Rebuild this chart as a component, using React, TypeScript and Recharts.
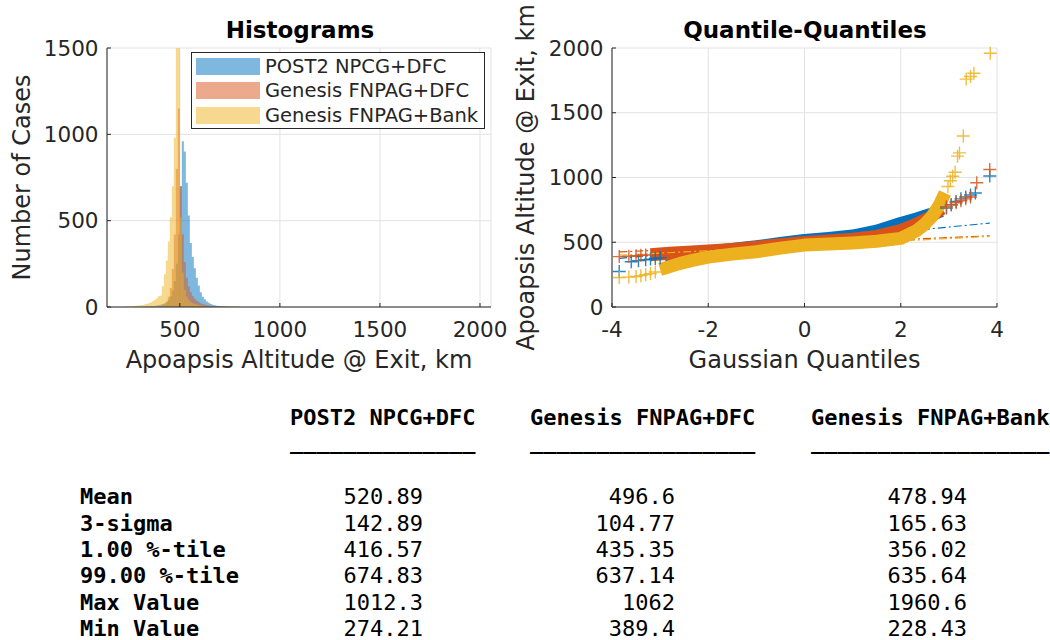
import {
  ComposedChart,
  Area,
  Line,
  Scatter,
  XAxis,
  YAxis,
  CartesianGrid,
  Legend,
  Label,
} from 'recharts';

const FONT = '"DejaVu Sans", Verdana, sans-serif';
const MONO = '"DejaVu Sans Mono", monospace';
const INK = '#262626';
const GRID = '#e2e2e2';
const COLORS = ['#0072BD', '#D95319', '#EDB120'];
const FILLS = ['rgba(0,114,189,0.5)', 'rgba(217,83,25,0.5)', 'rgba(237,177,32,0.5)'];

const seriesNames = ['POST2 NPCG+DFC', 'Genesis FNPAG+DFC', 'Genesis FNPAG+Bank'];

// histogram: left bin edge (km) and number of cases per 10 km bin
const binEdges = [
  220, 230, 240, 250, 260, 270, 280, 290, 300, 310,
  320, 330, 340, 350, 360, 370, 380, 390, 400, 410,
  420, 430, 440, 450, 460, 470, 480, 490, 500, 510,
  520, 530, 540, 550, 560, 570, 580, 590, 600, 610,
  620, 630, 640, 650, 660, 670, 680, 690, 700, 710,
  720, 730, 740, 750, 760, 770, 780, 790, 800,
];
const post2Counts = [
  0, 0, 0, 0, 0, 1, 1, 1, 1, 2,
  2, 3, 3, 4, 5, 6, 8, 10, 13, 17,
  22, 30, 42, 62, 95, 150, 250, 420, 700, 960,
  900, 720, 530, 370, 290, 225, 170, 125, 85, 60,
  45, 32, 24, 18, 13, 10, 7, 6, 5, 4,
  3, 3, 2, 2, 1, 1, 1, 1, 0,
];
const dfcCounts = [
  0, 0, 0, 0, 0, 0, 0, 0, 0, 0,
  0, 0, 0, 0, 0, 0, 0, 2, 4, 8,
  15, 30, 60, 110, 220, 420, 800, 1150, 700, 420,
  260, 170, 120, 85, 62, 48, 37, 29, 22, 17,
  13, 10, 8, 6, 5, 4, 3, 3, 2, 2,
  1, 1, 1, 1, 1, 0, 0, 0, 0,
];
const bankCounts = [
  2, 3, 3, 4, 5, 6, 7, 8, 10, 12,
  14, 17, 21, 26, 32, 40, 50, 62, 65, 120,
  190, 270, 380, 520, 700, 980, 1580, 1560, 520, 200,
  100, 60, 42, 30, 23, 18, 14, 11, 9, 7,
  6, 5, 4, 3, 3, 2, 2, 2, 1, 1,
  1, 1, 1, 1, 1, 1, 1, 1, 0,
];
const histTicksX = [500, 1000, 1500, 2000];
const histTicksY = [0, 500, 1000, 1500];

// quantile-quantile: [gaussian quantile, apoapsis km]
const post2Body = [
  [-2.9, 386], [-2.5, 405], [-2.0, 425], [-1.5, 445], [-1.0, 465], [-0.5, 490], [0, 514],
  [0.5, 530], [1.0, 548], [1.5, 585], [2.0, 645], [2.33, 680], [2.6, 712], [2.85, 745],
];
const post2Tail = [
  [-3.85, 274], [-3.6, 350], [-3.45, 358], [-3.3, 365], [-3.2, 370], [-3.1, 375], [-3.0, 380],
  [2.95, 765], [3.05, 790], [3.15, 815], [3.25, 835], [3.35, 850], [3.45, 865],
  [3.55, 880], [3.85, 1012],
];
const post2Fit = [[-3.85, 375], [3.85, 648]];

const dfcBody = [
  [-3.2, 404], [-2.8, 415], [-2.33, 425], [-2.0, 432], [-1.5, 445], [-1.0, 462], [-0.5, 480],
  [0, 498], [0.5, 510], [1.0, 523], [1.5, 545], [2.0, 590], [2.33, 640], [2.6, 690], [2.85, 760],
];
const dfcTail = [
  [-3.85, 389], [-3.65, 392], [-3.5, 396], [-3.4, 399], [-3.3, 402],
  [2.95, 775], [3.05, 790], [3.15, 805], [3.25, 820], [3.35, 835],
  [3.45, 850], [3.58, 960], [3.85, 1062],
];
const dfcFit = [[-3.85, 425], [3.85, 550]];

const bankBody = [
  [-3.0, 290], [-2.6, 335], [-2.33, 360], [-2.0, 385], [-1.5, 408], [-1.0, 427], [-0.5, 455],
  [0, 478], [0.5, 486], [1.0, 495], [1.5, 508], [2.0, 530], [2.33, 590], [2.5, 640],
  [2.65, 700], [2.8, 785], [2.92, 880],
];
const bankTail = [
  [-3.85, 228], [-3.65, 231], [-3.5, 236], [-3.4, 242], [-3.3, 250], [-3.2, 258], [-3.1, 270],
  [2.98, 930], [3.03, 975], [3.08, 1010], [3.13, 1040], [3.18, 1165],
  [3.22, 1190], [3.3, 1320], [3.36, 1760], [3.45, 1780], [3.52, 1805], [3.86, 1960],
];
const bankFit = [[-3.85, 400], [3.85, 545]];

const qqTicksX = [-4, -2, 0, 2, 4];
const qqTicksY = [0, 500, 1000, 1500, 2000];

// statistics table
const statLabels = ['Mean', '3-sigma', '1.00 %-tile', '99.00 %-tile', 'Max Value', 'Min Value'];
const post2Stats = ['520.89', '142.89', '416.57', '674.83', '1012.3', '274.21'];
const dfcStats = ['496.6', '104.77', '435.35', '637.14', '1062', '389.4'];
const bankStats = ['478.94', '165.63', '356.02', '635.64', '1960.6', '228.43'];

const histData = binEdges.map((x, i) => ({
  x,
  post2: post2Counts[i],
  dfc: dfcCounts[i],
  bank: bankCounts[i],
}));
const pts = (pairs: number[][]) => pairs.map(([q, v]) => ({ q, v }));

const tickFont = { fontSize: 21.5, fill: INK, fontFamily: FONT };
const labelFont = { fontSize: 24, fill: INK, fontFamily: FONT };

const cross = (color: string) => (props: any) => {
  const { cx, cy } = props;
  if (cx == null || cy == null) return <g />;
  return (
    <path
      d={`M${cx - 6.5},${cy}H${cx + 6.5}M${cx},${cy - 6.5}V${cy + 6.5}`}
      stroke={color}
      strokeWidth={1.4}
      strokeOpacity={0.85}
      fill="none"
    />
  );
};

const HistLegend = () => (
  <div
    style={{
      width: 294,
      height: 77,
      border: `1px solid ${INK}`,
      background: '#fff',
      boxSizing: 'border-box',
      padding: '1px 4px',
    }}
  >
    {seriesNames.map((name, i) => (
      <div key={name} style={{ display: 'flex', alignItems: 'center', height: 24.5 }}>
        <div style={{ width: 64, height: 17, background: FILLS[i], marginRight: 5 }} />
        <span style={{ fontFamily: FONT, fontSize: 19.5, color: INK, whiteSpace: 'nowrap' }}>{name}</span>
      </div>
    ))}
  </div>
);

const titleStyle = (cx: number): React.CSSProperties => ({
  position: 'absolute',
  left: cx - 200,
  width: 400,
  top: 18.5,
  textAlign: 'center',
  fontFamily: FONT,
  fontWeight: 'bold',
  fontSize: 23,
  lineHeight: '23px',
  color: '#000',
});

const cell = (left: number, top: number, bold: boolean, align: 'left' | 'right' = 'left'): React.CSSProperties => ({
  position: 'absolute',
  left: align === 'left' ? left : left - 300,
  width: align === 'left' ? 'auto' : 300,
  textAlign: align,
  top,
  fontFamily: MONO,
  fontSize: 22,
  lineHeight: '26.35px',
  fontWeight: bold ? 'bold' : 'normal',
  whiteSpace: 'pre',
  color: '#000',
});

const tableCols = [
  { head: seriesNames[0], x: 290, end: 423, values: post2Stats },
  { head: seriesNames[1], x: 530, end: 675, values: dfcStats },
  { head: seriesNames[2], x: 811, end: 967, values: bankStats },
];

const qqSeries = [
  { body: post2Body, tail: post2Tail, fit: post2Fit, color: COLORS[0] },
  { body: dfcBody, tail: dfcTail, fit: dfcFit, color: COLORS[1] },
  { body: bankBody, tail: bankTail, fit: bankFit, color: COLORS[2] },
];

export default function App() {
  return (
    <div style={{ position: 'absolute', left: 0, top: 0, width: 1050, height: 640, background: '#fff' }}>
      <div style={{ position: 'absolute', left: 0, top: 0 }}>
        <ComposedChart width={520} height={380} data={histData} margin={{ top: 48, right: 29, bottom: 43, left: 21 }}>
          <CartesianGrid stroke={GRID} />
          <XAxis
            dataKey="x"
            type="number"
            domain={[136, 2055]}
            ticks={histTicksX}
            interval={0}
            tick={tickFont}
            tickSize={-4}
            tickMargin={19}
            height={30}
            stroke={INK}
          >
            <Label value="Apoapsis Altitude @ Exit, km" position="bottom" offset={14} style={labelFont} />
          </XAxis>
          <YAxis
            type="number"
            domain={[0, 1500]}
            allowDataOverflow
            ticks={histTicksY}
            interval={0}
            tick={tickFont}
            tickSize={-4}
            tickMargin={12.5}
            width={86}
            stroke={INK}
          >
            <Label
              value="Number of Cases"
              angle={-90}
              position="insideLeft"
              offset={0}
              style={{ ...labelFont, textAnchor: 'middle' }}
            />
          </YAxis>
          <XAxis xAxisId="top" orientation="top" type="number" domain={[136, 2055]} ticks={histTicksX} interval={0} tick={false} tickSize={-4} height={0} stroke={INK} />
          <YAxis yAxisId="right" orientation="right" type="number" domain={[0, 1500]} ticks={histTicksY} interval={0} tick={false} tickSize={-4} width={0} stroke={INK} />
          <Area type="stepAfter" dataKey="post2" stroke="none" fill={COLORS[0]} fillOpacity={0.5} isAnimationActive={false} />
          <Area type="stepAfter" dataKey="dfc" stroke="none" fill={COLORS[1]} fillOpacity={0.5} isAnimationActive={false} />
          <Area type="stepAfter" dataKey="bank" stroke="none" fill={COLORS[2]} fillOpacity={0.5} isAnimationActive={false} />
          <Legend
            layout="vertical"
            align="center"
            verticalAlign="middle"
            content={() => <HistLegend />}
            wrapperStyle={{ left: 191, top: 52, width: 294, height: 77 }}
          />
        </ComposedChart>
      </div>

      <div style={{ position: 'absolute', left: 510, top: 0 }}>
        <ComposedChart width={520} height={380} margin={{ top: 48, right: 33, bottom: 43, left: 15 }}>
          <CartesianGrid stroke={GRID} />
          <XAxis
            dataKey="q"
            type="number"
            domain={[-4, 4]}
            ticks={qqTicksX}
            interval={0}
            tick={tickFont}
            tickSize={-4}
            tickMargin={19}
            height={30}
            stroke={INK}
          >
            <Label value="Gaussian Quantiles" position="bottom" offset={14} style={labelFont} />
          </XAxis>
          <YAxis
            dataKey="v"
            type="number"
            domain={[0, 2000]}
            ticks={qqTicksY}
            interval={0}
            tick={tickFont}
            tickSize={-4}
            tickMargin={12.5}
            width={87}
            stroke={INK}
          >
            <Label
              value="Apoapsis Altitude @ Exit, km"
              angle={-90}
              position="insideLeft"
              offset={0}
              style={{ ...labelFont, textAnchor: 'middle' }}
            />
          </YAxis>
          <XAxis xAxisId="top" orientation="top" type="number" domain={[-4, 4]} ticks={qqTicksX} interval={0} tick={false} tickSize={-4} height={0} stroke={INK} />
          <YAxis yAxisId="right" orientation="right" type="number" domain={[0, 2000]} ticks={qqTicksY} interval={0} tick={false} tickSize={-4} width={0} stroke={INK} />
          {qqSeries.flatMap((s, i) => [
            <Line
              key={`body-${i}`}
              data={pts(s.body)}
              dataKey="v"
              stroke={s.color}
              strokeWidth={13}
              strokeLinecap="butt"
              strokeLinejoin="round"
              dot={false}
              activeDot={false}
              isAnimationActive={false}
            />,
            <Line
              key={`fit-${i}`}
              data={pts(s.fit)}
              dataKey="v"
              stroke={s.color}
              strokeWidth={1.2}
              strokeDasharray="8 3 2 3"
              dot={false}
              activeDot={false}
              isAnimationActive={false}
            />,
            <Scatter
              key={`tail-${i}`}
              data={pts(s.tail)}
              dataKey="v"
              shape={cross(s.color)}
              isAnimationActive={false}
            />,
          ])}
        </ComposedChart>
      </div>

      <div style={titleStyle(300)}>Histograms</div>
      <div style={titleStyle(805)}>Quantile-Quantiles</div>

      {tableCols.map((c) => (
        <div key={c.head}>
          <div style={cell(c.x, 405.2, true)}>{c.head}</div>
          <div style={cell(c.x, 429.2, true)}>{'_'.repeat(c.head.length)}</div>
          {c.values.map((v, r) => (
            <div key={r} style={cell(c.end, 484.2 + r * 26.35, false, 'right')}>{v}</div>
          ))}
        </div>
      ))}
      {statLabels.map((s, r) => (
        <div key={s} style={cell(80, 484.2 + r * 26.35, true)}>{s}</div>
      ))}
    </div>
  );
}
